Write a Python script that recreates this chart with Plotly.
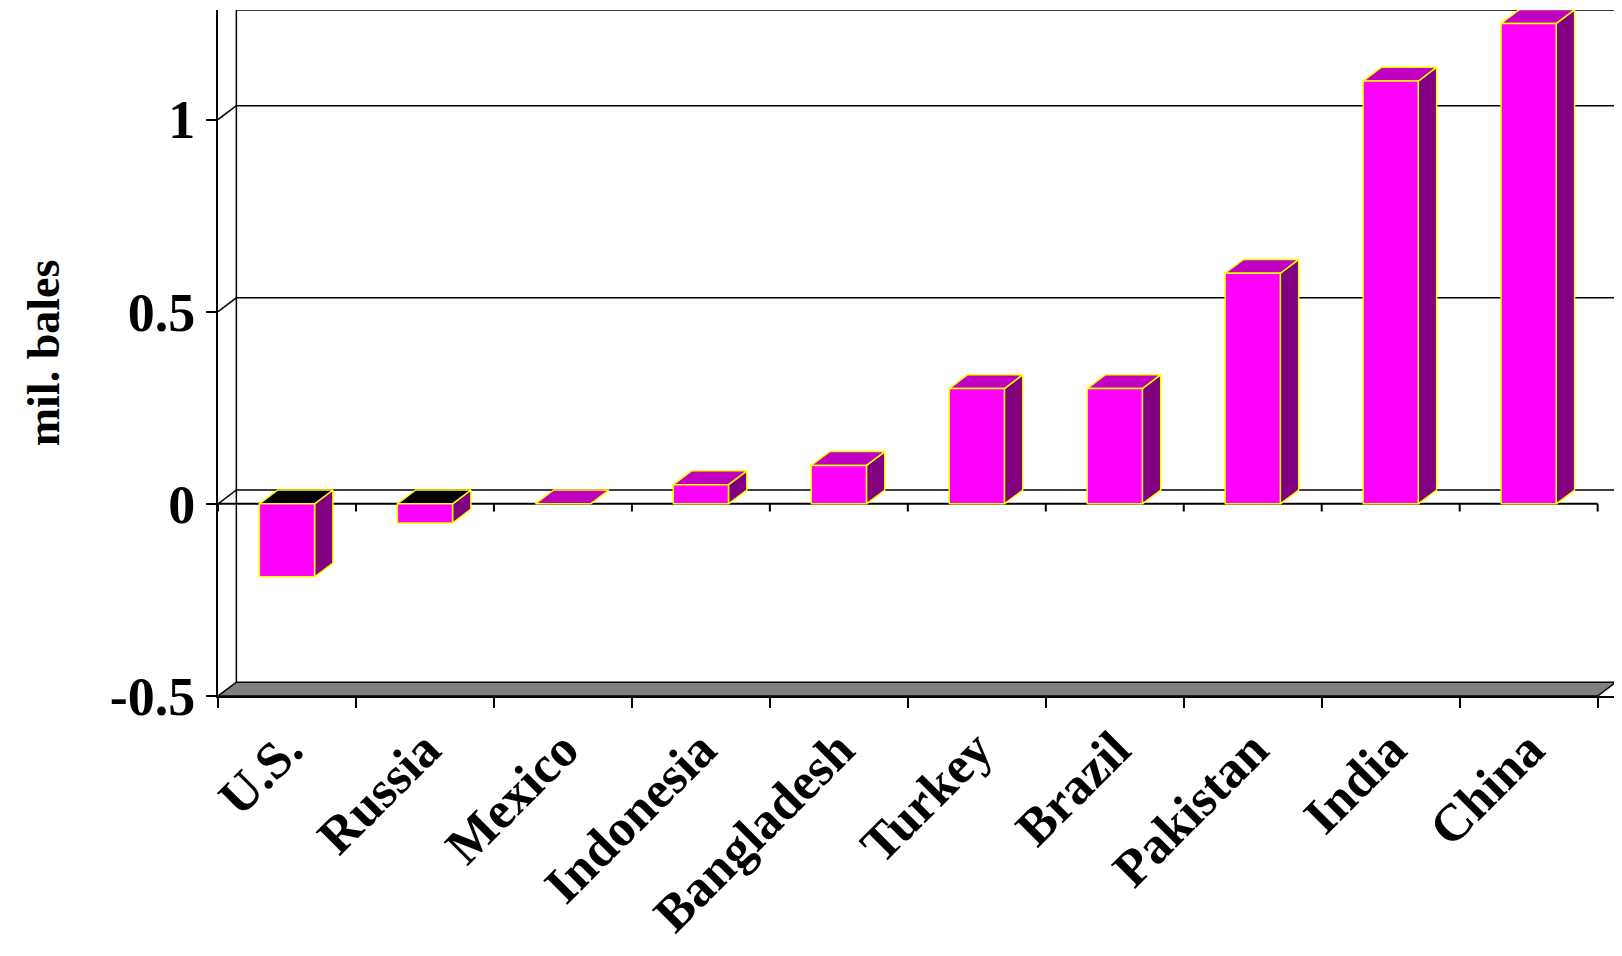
import plotly.graph_objects as go

countries = ["U.S.", "Russia", "Mexico", "Indonesia", "Bangladesh", "Turkey", "Brazil", "Pakistan", "India", "China"]
values = [-0.19, -0.05, 0.0, 0.05, 0.1, 0.3, 0.3, 0.6, 1.1, 1.25]
yticks = [-0.5, 0, 0.5, 1]
ytext = ["-0.5", "0", "0.5", "1"]

DX, DY = 0.133, 0.036
HW = 0.2
YMIN, YMAX = -0.5, 1.285
XMIN, XMAX = -0.5, 9.5 + DX

fig = go.Figure()

def poly(xs, ys, fill, line="rgba(0,0,0,0)", w=1):
    fig.add_trace(go.Scatter(x=xs + [xs[0]], y=ys + [ys[0]], fill="toself", fillcolor=fill,
                             mode="lines", line=dict(color=line, width=w), hoverinfo="skip", showlegend=False))

poly([XMIN, 9.5, 9.5 + DX, XMIN + DX], [YMIN, YMIN, YMIN + DY, YMIN + DY], "#808080", "black", 1.5)
fig.add_trace(go.Scatter(x=[XMIN + DX, XMIN + DX, XMAX], y=[YMIN + DY, YMAX, YMAX], mode="lines",
                         line=dict(color="black", width=1.5), hoverinfo="skip", showlegend=False))
gx, gy = [], []
for t in [0, 0.5, 1]:
    gx += [XMIN, XMIN + DX, XMAX, None]
    gy += [t, t + DY, t + DY, None]
fig.add_trace(go.Scatter(x=gx, y=gy, mode="lines", line=dict(color="black", width=1.5),
                         hoverinfo="skip", showlegend=False))
zx, zy = [XMIN, 9.5, None], [0, 0, None]
for i in range(11):
    b = -0.5 + i
    zx += [b, b, None]
    zy += [0, -0.02, None]
fig.add_trace(go.Scatter(x=zx, y=zy, mode="lines", line=dict(color="black", width=2),
                         hoverinfo="skip", showlegend=False))

for i, v in enumerate(values):
    lo, hi = min(v, 0), max(v, 0)
    x0, x1 = i - HW, i + HW
    poly([x1, x1 + DX, x1 + DX, x1], [lo, lo + DY, hi + DY, hi], "#800080", "yellow", 1.5)
    poly([x0, x1, x1 + DX, x0 + DX], [hi, hi, hi + DY, hi + DY], "black" if v < 0 else "#C000C0", "yellow", 1.5)
    if hi - lo > 0:
        poly([x0, x1, x1, x0], [lo, lo, hi, hi], "#FF00FF", "yellow", 1.5)

font = dict(family="Liberation Serif", size=52, color="black")
fig.update_layout(
    width=1622, height=956, plot_bgcolor="white", paper_bgcolor="white",
    margin=dict(l=210, r=14, t=2, b=268),
    xaxis=dict(range=[XMIN, XMAX], tickvals=list(range(10)), ticktext=[f"<b>{c}</b>" for c in countries],
               tickangle=-45, ticks="", showgrid=False, zeroline=False, showline=True,
               linecolor="black", linewidth=2, tickfont=font,
               minor=dict(tickvals=[-0.5 + k for k in range(11)], ticks="outside", ticklen=10,
                          tickcolor="black", tickwidth=2, showgrid=False)),
    yaxis=dict(range=[YMIN, YMAX], tickvals=yticks, ticktext=[f"<b>{t}</b>" for t in ytext],
               ticks="outside", ticklen=10, tickwidth=2, tickcolor="black", showgrid=False,
               zeroline=False, showline=True, linecolor="black", linewidth=2,
               tickfont=dict(family="Liberation Serif", size=54, color="black")),
    annotations=[dict(text="<b>mil. bales</b>", xref="paper", yref="paper", x=-0.125, y=0.5,
                      textangle=-90, showarrow=False, xanchor="center", yanchor="middle",
                      font=dict(family="Liberation Serif", size=46, color="black"))],
)
fig.write_html("out.html")
